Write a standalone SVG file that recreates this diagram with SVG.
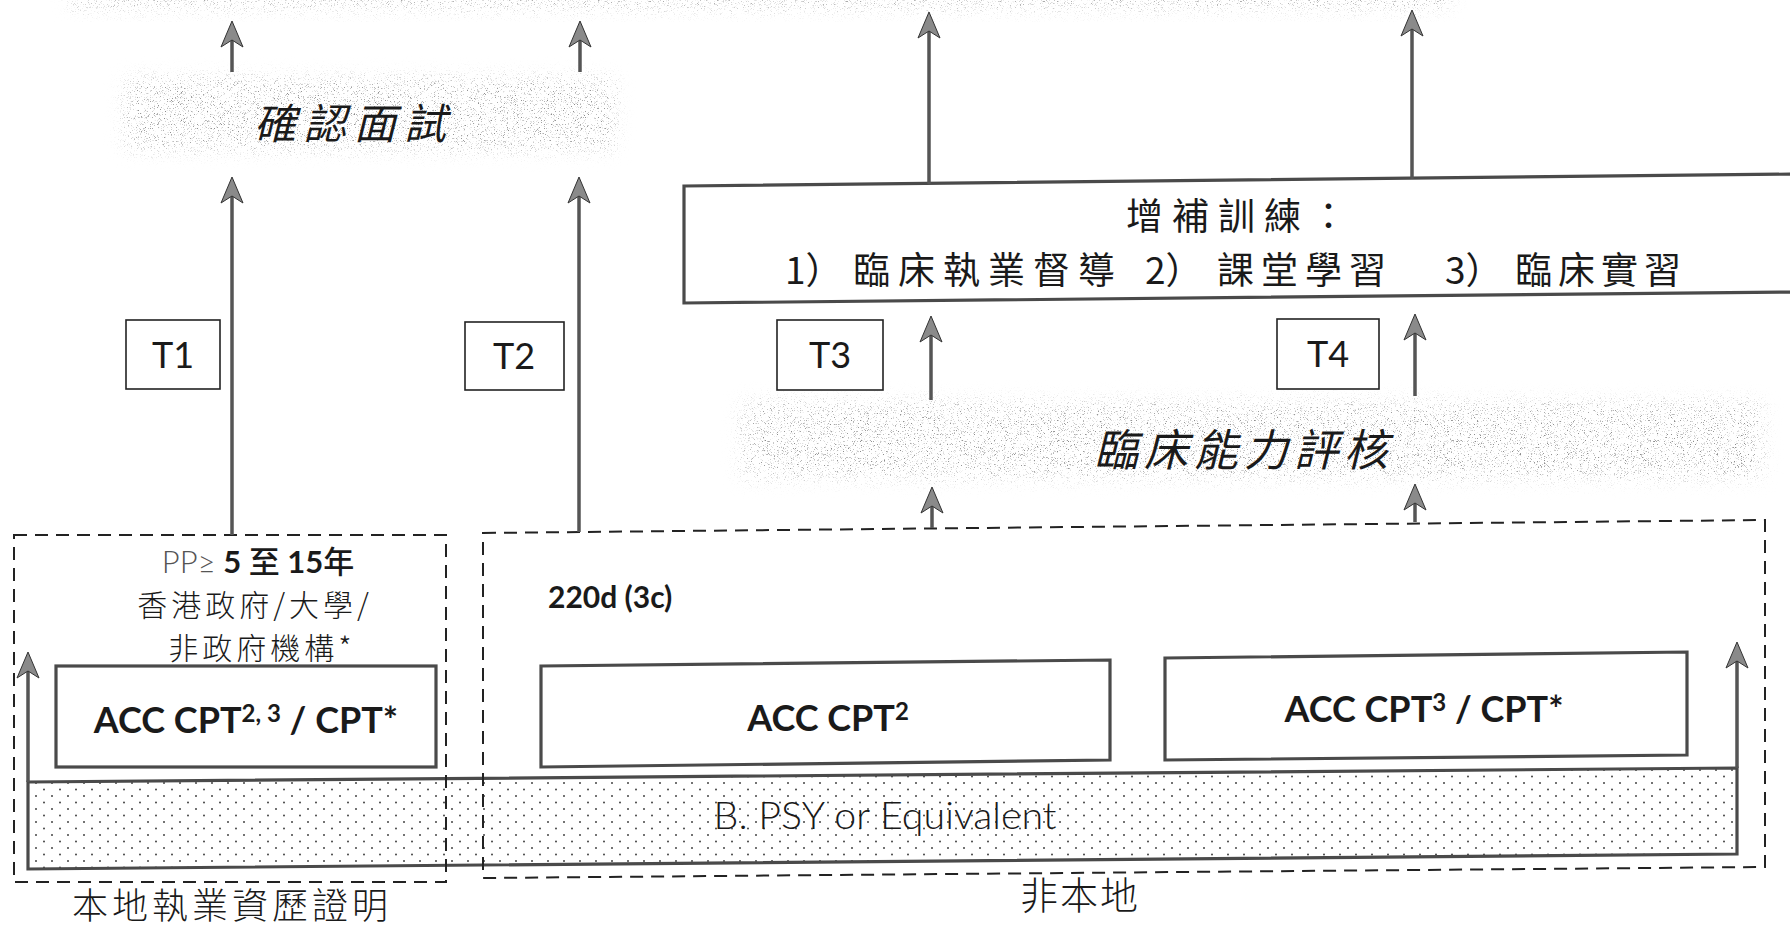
<svg xmlns="http://www.w3.org/2000/svg" width="1790" height="930" viewBox="0 0 1790 930">
<defs>
  <style>
    .cjk { font-family: 'Noto Sans CJK TC', 'Noto Sans CJK SC', sans-serif; fill: #1a1a1a; }
    .lat { font-family: Lato, 'Open Sans', 'Noto Sans CJK TC', sans-serif; fill: #1a1a1a; }
    .tbox { fill: #fff; stroke: #222; stroke-width: 1.6; }
    .solid { fill: #fff; stroke: #4a4a4a; stroke-width: 3.2; }
    .dash { fill: none; stroke: #222; stroke-width: 2; stroke-dasharray: 13 8; }
    .shaft { fill: none; stroke: #555; stroke-width: 3.5; marker-end: url(#ah); }
    .tl { font-size: 36px; text-anchor: middle; }
    .acc { font-size: 36px; font-weight: 700; text-anchor: middle; }
  </style>
  <marker id="ah" markerUnits="userSpaceOnUse" viewBox="-24 -13 30 26" markerWidth="30" markerHeight="26" refX="0" refY="0" orient="auto">
    <path d="M4,0 L-22,-11 L-15,0 L-22,11 Z" fill="#8a8a8a" stroke="#333" stroke-width="1"/>
  </marker>
  <pattern id="dots" width="16" height="13" patternUnits="userSpaceOnUse">
    <circle cx="4" cy="3" r="1" fill="#444"/>
    <circle cx="12" cy="9.5" r="1" fill="#444"/>
  </pattern>
  <filter id="speck" x="-10%" y="-60%" width="120%" height="220%" color-interpolation-filters="sRGB">
    <feTurbulence type="fractalNoise" baseFrequency="1.3" numOctaves="2" seed="7" result="noise"/>
    <feColorMatrix in="noise" type="matrix" values="0 0 0 0 0.55  0 0 0 0 0.55  0 0 0 0 0.55  5 0 0 0 -2.95" result="sp"/>
    <feGaussianBlur in="SourceAlpha" stdDeviation="9" result="soft"/>
    <feComposite in="sp" in2="soft" operator="in"/>
  </filter>
</defs>
<rect width="1790" height="930" fill="#fff"/>

<g id="band-top"><rect x="70" y="-14" width="1380" height="22" fill="#000" filter="url(#speck)"/></g>

<g id="interview">
  <rect x="125" y="78" width="490" height="72" fill="#000" filter="url(#speck)"/>
  <text class="cjk" x="254" y="139" font-size="42" font-style="italic" letter-spacing="8">確認面試</text>
</g>

<g id="assessment">
  <rect x="742" y="402" width="1020" height="76" fill="#000" filter="url(#speck)"/>
  <text class="cjk" x="1094" y="466" font-size="44" font-style="italic" letter-spacing="6">臨床能力評核</text>
</g>

<g id="training">
  <path d="M684,186 L1800,174 L1800,292 L684,303 Z" class="solid" stroke-width="3.4"/>
  <text class="cjk" x="1126" y="230" font-size="37" letter-spacing="9">增補訓練：</text>
  <text class="cjk" y="284" font-size="37"><tspan x="785">1）</tspan><tspan x="853" letter-spacing="8">臨床執業督導</tspan><tspan x="1145">2）</tspan><tspan x="1217" letter-spacing="7">課堂學習</tspan><tspan x="1445">3）</tspan><tspan x="1515" letter-spacing="6">臨床實習</tspan></text>
</g>

<g id="T1"><rect class="tbox" x="126" y="320" width="94" height="69"/><text class="lat tl" x="173" y="368">T1</text></g>
<g id="T2"><rect class="tbox" x="465" y="322" width="99" height="68"/><text class="lat tl" x="514" y="369">T2</text></g>
<g id="T3"><rect class="tbox" x="777" y="320" width="106" height="70"/><text class="lat tl" x="830" y="368">T3</text></g>
<g id="T4"><rect class="tbox" x="1277" y="319" width="102" height="70"/><text class="lat tl" x="1328" y="367">T4</text></g>

<g id="bpsy">
  <path d="M28,782 L1737,768 L1737,854 L28,869 Z" fill="url(#dots)" stroke="#4a4a4a" stroke-width="3.2"/>
  <text class="lat" x="885" y="829" font-size="38" font-weight="300" text-anchor="middle" textLength="343" lengthAdjust="spacingAndGlyphs" fill="#2a2a2a">B. PSY or Equivalent</text>
</g>

<g id="local-box">
  <rect class="dash" x="14" y="535" width="432" height="347"/>
  <text class="lat" x="258" y="573" font-size="31" text-anchor="middle"><tspan fill="#555" font-weight="300">PP≥</tspan><tspan font-weight="700"> 5 </tspan><tspan class="cjk" font-weight="500">至</tspan><tspan font-weight="700"> 15</tspan><tspan class="cjk" font-weight="500">年</tspan></text>
  <text class="cjk" x="255" y="616" font-size="30" font-weight="300" letter-spacing="4" text-anchor="middle">香港政府/大學/</text>
  <text class="cjk" x="262" y="659" font-size="30" font-weight="300" letter-spacing="4" text-anchor="middle">非政府機構*</text>
  <text class="cjk" x="232" y="919" font-size="36" font-weight="300" letter-spacing="4" text-anchor="middle">本地執業資歷證明</text>
</g>

<g id="acc-cpt-23">
  <rect class="solid" x="56" y="666" width="380" height="101"/>
  <text class="lat acc" x="246" y="733">ACC CPT<tspan font-size="24" baseline-shift="11">2, 3</tspan> / CPT*</text>
</g>

<g id="nonlocal-box">
  <path class="dash" d="M483,533 L1765,520 L1765,867 L483,878 Z"/>
  <text class="lat" x="548" y="608" font-size="30" font-weight="700">220d (3c)</text>
  <text class="cjk" x="1080" y="909" font-size="38" font-weight="300" letter-spacing="2" text-anchor="middle">非本地</text>
</g>

<g id="acc-cpt-2">
  <path class="solid" d="M541,666 L1110,660 L1110,760 L541,767 Z"/>
  <text class="lat acc" x="828" y="731">ACC CPT<tspan font-size="24" baseline-shift="11">2</tspan></text>
</g>

<g id="acc-cpt-3">
  <path class="solid" d="M1165,658 L1687,652 L1687,755 L1165,760 Z"/>
  <text class="lat acc" x="1424" y="722">ACC CPT<tspan font-size="24" baseline-shift="11">3</tspan> / CPT*</text>
</g>

<g id="connectors">
  <line class="shaft" x1="232" y1="72" x2="232" y2="25"/>
  <line class="shaft" x1="580" y1="72" x2="580" y2="25"/>
  <line class="shaft" x1="232" y1="535" x2="232" y2="181"/>
  <line class="shaft" x1="579" y1="532" x2="579" y2="181"/>
  <line class="shaft" x1="929" y1="184" x2="929" y2="16"/>
  <line class="shaft" x1="1412" y1="179" x2="1412" y2="14"/>
  <line class="shaft" x1="931" y1="400" x2="931" y2="320"/>
  <line class="shaft" x1="1415" y1="396" x2="1415" y2="318"/>
  <line class="shaft" x1="932" y1="528" x2="932" y2="491"/>
  <line class="shaft" x1="1415" y1="522" x2="1415" y2="488"/>
  <line class="shaft" x1="28" y1="782" x2="28" y2="656"/>
  <line class="shaft" x1="1737" y1="768" x2="1737" y2="646"/>
</g>
</svg>
